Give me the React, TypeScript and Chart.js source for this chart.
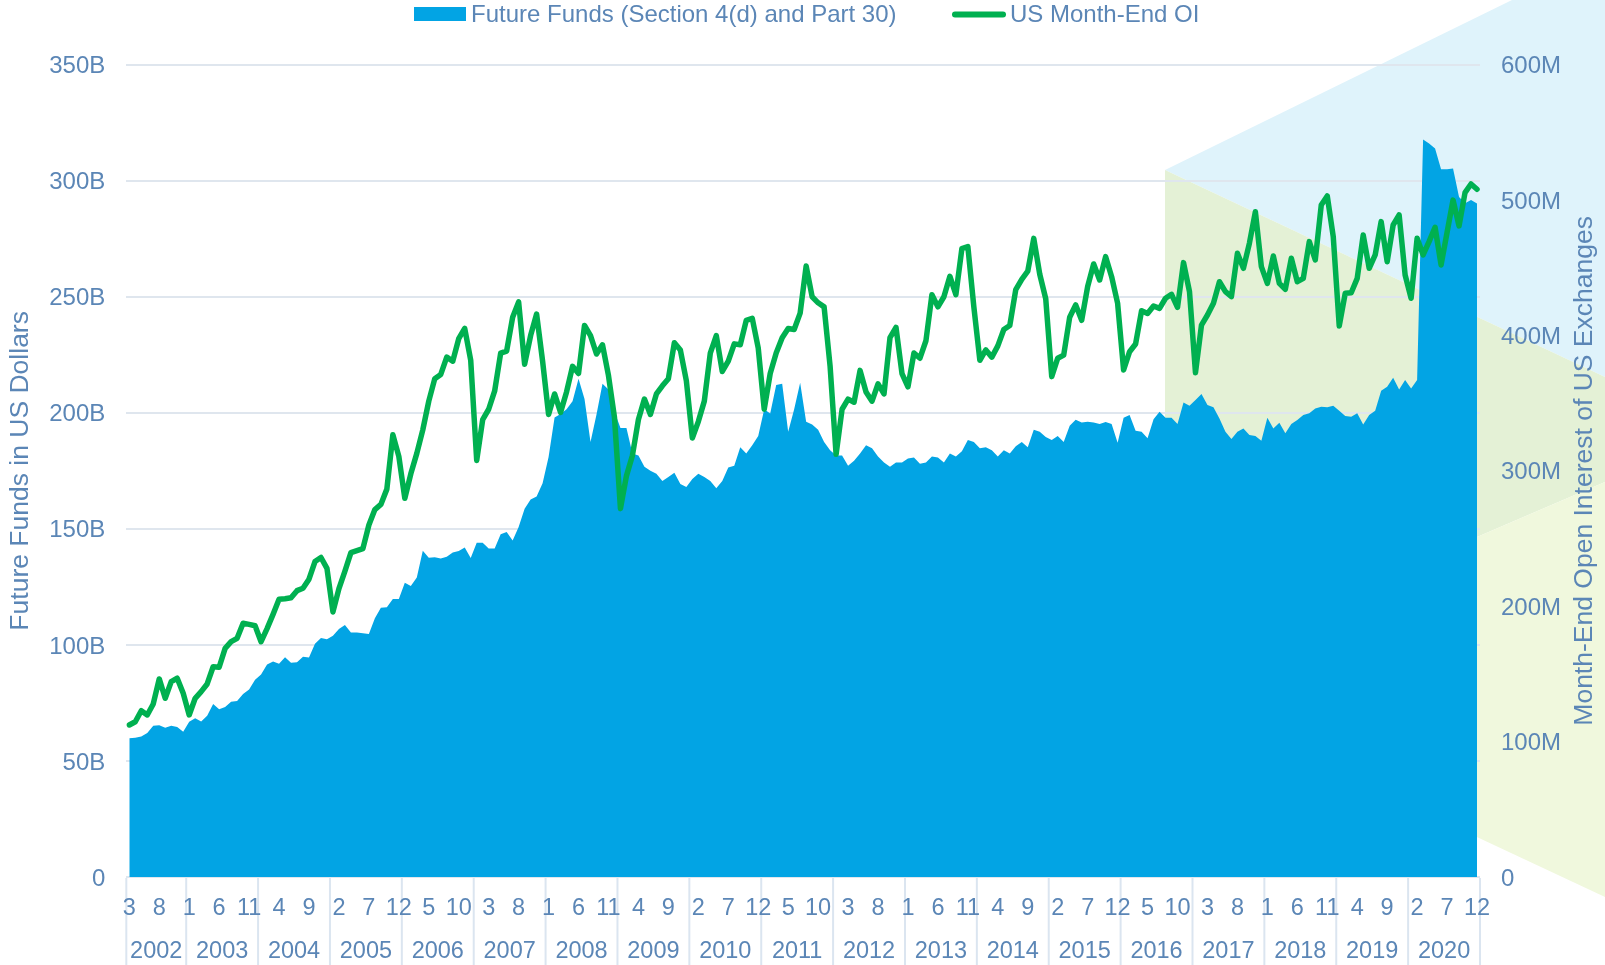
import React, { useEffect, useRef } from 'react';
import { Chart, registerables } from 'chart.js';

Chart.register(...registerables);

// ---- data ----
const years = [2002, 2003, 2004, 2005, 2006, 2007, 2008, 2009, 2010, 2011, 2012, 2013, 2014, 2015, 2016, 2017, 2018, 2019, 2020];
const firstMonth = 3; // series starts March 2002, ends December 2020
const monthTickStep = 5;

// Future Funds (Section 4(d) and Part 30), billions USD
const fundsB = [
  59.8, 60.0, 60.5, 62.0, 65.2, 65.4, 64.3, 65.2, 64.6, 62.6,
  66.9, 68.4, 67.0, 69.5, 74.5, 72.3, 73.2, 75.5, 75.8, 78.9, 80.8, 85.0,
  87.3, 91.6, 92.8, 91.9, 94.7, 92.3, 92.5, 94.9, 94.6, 100.5, 103.0, 102.4,
  104.0, 106.9, 108.6, 105.4, 105.3, 105.0, 104.7, 111.5, 116.0, 116.2, 119.8, 119.8,
  126.8, 125.4, 129.0, 140.6, 137.6, 137.8, 137.2, 138.0, 139.8, 140.5, 142.0, 137.5,
  144.0, 144.0, 141.5, 141.5, 147.7, 148.6, 145.0, 150.8, 158.7, 162.7, 164.0, 169.7,
  181.0, 198.0, 199.5, 201.5, 205.0, 214.7, 206.0, 187.4, 199.3, 212.5, 210.0, 200.6,
  193.5, 193.5, 182.5, 181.6, 176.8, 175.0, 173.7, 170.6, 172.4, 174.2, 169.3, 168.0,
  171.5, 173.7, 172.4, 170.6, 167.5, 170.6, 176.4, 177.2, 185.2, 182.5, 186.0, 190.0,
  201.5, 199.7, 212.0, 212.5, 191.8, 201.5, 213.0, 196.2, 195.0, 192.7, 187.4, 183.9,
  181.6, 181.6, 177.2, 179.4, 182.5, 186.0, 184.7, 181.2, 178.6, 176.8, 178.6, 178.6,
  180.3, 180.8, 178.1, 178.6, 181.2, 180.8, 178.6, 182.5, 181.2, 183.4, 188.3, 187.4,
  184.7, 185.2, 183.9, 181.2, 183.9, 182.5, 185.6, 187.4, 185.2, 192.7, 191.8, 189.6,
  188.3, 190.0, 187.4, 194.4, 197.0, 195.8, 196.2, 195.8, 195.2, 196.0, 195.2, 187.1,
  197.9, 199.1, 192.3, 191.9, 189.0, 197.2, 200.5, 197.9, 197.9, 195.2, 204.4, 203.1,
  205.5, 208.1, 203.4, 202.4, 197.6, 191.9, 188.7, 191.9, 193.3, 190.4, 190.0, 188.0,
  197.9, 193.3, 195.7, 191.2, 195.2, 196.9, 199.1, 199.8, 201.9, 202.6, 202.4, 203.1,
  200.9, 198.6, 198.3, 199.8, 195.0, 199.1, 200.9, 209.5, 211.2, 215.1, 210.1, 214.1,
  210.5, 214.1, 317.8, 316.0, 313.9, 305.0, 305.0, 305.3, 293.0, 290.3, 291.7, 290.2,
];

// US Month-End OI, millions of contracts
const oiM = [
  112.3, 114.7, 122.8, 119.7, 127.8, 146.3, 132.0, 144.3, 146.8, 135.7,
  119.7, 132.0, 136.9, 142.6, 155.3, 154.9, 168.9, 173.8, 176.3, 187.4, 186.6, 185.6,
  173.8, 183.5, 194.0, 205.1, 205.5, 206.2, 211.5, 213.3, 220.0, 233.0, 236.0, 228.0,
  195.8, 213.0, 226.0, 239.6, 241.1, 242.6, 260.0, 271.4, 275.2, 286.5, 326.6, 310.7,
  279.7, 297.8, 312.9, 330.3, 351.5, 368.1, 371.2, 384.0, 381.0, 397.6, 405.2, 381.7,
  307.7, 337.9, 345.5, 359.0, 387.0, 388.5, 413.5, 424.8, 378.7, 399.9, 415.8, 381.0,
  341.7, 356.8, 343.2, 358.3, 377.2, 371.9, 407.4, 399.9, 386.3, 393.1, 370.4, 339.4,
  272.1, 296.3, 311.4, 337.9, 353.0, 341.7, 356.8, 362.8, 368.1, 394.6, 389.3, 366.6,
  324.3, 336.4, 351.5, 387.0, 399.9, 373.4, 381.0, 393.8, 393.1, 411.2, 412.7, 390.8,
  345.5, 371.9, 387.0, 398.4, 405.2, 404.4, 416.5, 451.3, 428.6, 424.1, 421.1, 377.2,
  312.2, 345.5, 353.0, 350.7, 374.2, 358.3, 351.5, 364.3, 356.8, 398.4, 405.9, 371.9,
  362.1, 387.0, 383.2, 396.1, 430.1, 421.1, 428.6, 443.7, 430.1, 464.1, 465.6, 421.1,
  381.7, 389.3, 384.0, 392.3, 404.4, 407.4, 433.9, 441.5, 447.5, 471.7, 445.2, 427.1,
  369.6, 383.2, 385.5, 413.5, 422.6, 411.2, 436.2, 452.8, 441.0, 458.2, 443.4, 423.8,
  374.5, 388.0, 393.7, 418.3, 416.2, 421.8, 420.0, 427.5, 430.4, 420.8, 453.8, 432.4,
  372.5, 407.7, 415.1, 423.8, 439.7, 432.4, 428.7, 460.7, 449.6, 468.1, 491.4, 450.8,
  438.5, 458.7, 438.5, 434.1, 457.0, 439.7, 442.2, 469.3, 455.8, 496.4, 503.0, 473.0,
  407.0, 431.2, 431.6, 442.2, 474.2, 449.6, 459.5, 484.1, 454.5, 481.6, 489.0, 444.7,
  427.5, 471.8, 459.5, 469.3, 479.9, 452.1, 476.0, 500.0, 480.9, 505.5, 511.9, 508.0,
];

const leftTicks = [0, 50, 100, 150, 200, 250, 300, 350];
const rightTicks = [0, 100, 200, 300, 400, 500, 600];

const seriesNames = ['Future Funds (Section 4(d) and Part 30)', 'US Month-End OI'];
const axisTitles = ['Future Funds in US Dollars', 'Month-End Open Interest of US Exchanges'];

// ---- styles ----
const BLUE = '#02a4e4';
const GREEN = '#00b050';
const TEXT = '#5b86b6';
const GRID = '#dfe6ee';
const SEP = '#dbe5f0';
const FONT = '"Liberation Sans", Arial, Helvetica, sans-serif';

const monthOf = (i: number) => ((firstMonth - 1 + i) % 12) + 1;
const monthTickIdx: number[] = [];
for (let i = 0; i < fundsB.length; i += monthTickStep) monthTickIdx.push(i);

const backdrop = {
  id: 'backdrop',
  beforeDraw(chart: any) {
    const ctx = chart.ctx as CanvasRenderingContext2D;
    const xs = chart.scales.x;
    const area = chart.chartArea;
    const poly = (pts: number[][], color: string) => {
      ctx.beginPath();
      pts.forEach(([x, y], k) => (k ? ctx.lineTo(x, y) : ctx.moveTo(x, y)));
      ctx.closePath();
      ctx.fillStyle = color;
      ctx.fill();
    };
    ctx.save();
    poly([[1165, 170], [1512, 0], [1605, 0], [1605, 377]], '#dff3fb');
    poly([[1165, 170], [1605, 377], [1605, 482], [1165, 671]], '#e4f1d6');
    poly([[1165, 671], [1605, 482], [1605, 897], [1165, 691]], '#f0f8dd');

    // year separators (behind tick labels)
    ctx.strokeStyle = SEP;
    ctx.lineWidth = 2;
    let start = 0;
    years.forEach((_yr, k) => {
      const count = k === 0 ? 13 - firstMonth : Math.min(12, fundsB.length - start);
      const a = xs.getPixelForValue(start - 0.5);
      const b = xs.getPixelForValue(start + count - 0.5);
      ctx.beginPath();
      ctx.moveTo(a, area.bottom + 1);
      ctx.lineTo(a, chart.height);
      if (k === years.length - 1) {
        ctx.moveTo(b, area.bottom + 1);
        ctx.lineTo(b, chart.height);
      }
      ctx.stroke();
      start += count;
    });
    ctx.restore();
  },
};

const decorations = {
  id: 'decorations',
  afterDraw(chart: any) {
    const ctx = chart.ctx as CanvasRenderingContext2D;
    const xs = chart.scales.x;
    const area = chart.chartArea;
    ctx.save();
    // year labels
    ctx.fillStyle = TEXT;
    ctx.font = `23.5px ${FONT}`;
    ctx.textAlign = 'center';
    ctx.textBaseline = 'alphabetic';
    let start = 0;
    years.forEach((yr, k) => {
      const count = k === 0 ? 13 - firstMonth : Math.min(12, fundsB.length - start);
      const a = xs.getPixelForValue(start - 0.5);
      const b = xs.getPixelForValue(start + count - 0.5);
      ctx.fillText(String(yr), (a + b) / 2, 957.5);
      start += count;
    });

    // legend
    ctx.font = `24px ${FONT}`;
    ctx.textAlign = 'left';
    ctx.fillStyle = BLUE;
    ctx.fillRect(414, 7, 52, 14);
    ctx.fillStyle = TEXT;
    ctx.fillText(chart.data.datasets[0].label, 471, 22);
    ctx.strokeStyle = GREEN;
    ctx.lineWidth = 6;
    ctx.lineCap = 'round';
    ctx.beginPath();
    ctx.moveTo(955, 14.5);
    ctx.lineTo(1003, 14.5);
    ctx.stroke();
    ctx.fillText(chart.data.datasets[1].label, 1010, 22);

    // right axis title (reads bottom-to-top)
    ctx.font = `26.5px ${FONT}`;
    ctx.translate(chart.width - 20.5, (area.top + area.bottom) / 2);
    ctx.rotate(-Math.PI / 2);
    ctx.textAlign = 'center';
    ctx.textBaseline = 'middle';
    ctx.fillText(axisTitles[1], 0, 0);
    ctx.restore();
  },
};

export default function App() {
  const ref = useRef<HTMLCanvasElement | null>(null);

  useEffect(() => {
    document.body.style.margin = '0';
    const canvas = ref.current;
    if (!canvas) return;
    const tickFont = { family: FONT, size: 24 };
    const chart = new Chart(canvas, {
      type: 'line',
      data: {
        datasets: [
          {
            label: seriesNames[0],
            data: fundsB.map((v, i) => ({ x: i, y: v })),
            yAxisID: 'yL',
            fill: 'origin',
            backgroundColor: BLUE,
            borderColor: 'rgba(0,0,0,0)',
            borderWidth: 0,
            pointRadius: 0,
            tension: 0,
            order: 2,
          },
          {
            label: seriesNames[1],
            data: oiM.map((v, i) => ({ x: i, y: v })),
            yAxisID: 'yR',
            fill: false,
            borderColor: GREEN,
            backgroundColor: GREEN,
            borderWidth: 5.5,
            borderJoinStyle: 'round',
            borderCapStyle: 'round',
            pointRadius: 0,
            tension: 0,
            order: 1,
          },
        ],
      } as any,
      options: {
        animation: false,
        responsive: true,
        maintainAspectRatio: false,
        layout: { padding: { top: 64.7, left: 0, right: 0, bottom: 0 } },
        plugins: { legend: { display: false }, tooltip: { enabled: false } },
        scales: {
          x: {
            type: 'linear',
            min: -0.5,
            max: fundsB.length - 0.5,
            grid: { display: false, drawTicks: false },
            border: { display: false },
            afterBuildTicks: (s: any) => {
              s.ticks = monthTickIdx.map((v) => ({ value: v }));
            },
            afterFit: (s: any) => {
              s.height = 88;
            },
            ticks: {
              autoSkip: false,
              maxRotation: 0,
              minRotation: 0,
              padding: 17.5,
              color: TEXT,
              font: { family: FONT, size: 23.5 },
              callback: (v: any) => String(monthOf(Number(v))),
            },
          },
          yL: {
            position: 'left',
            min: leftTicks[0],
            max: leftTicks[leftTicks.length - 1],
            afterBuildTicks: (s: any) => {
              s.ticks = leftTicks.map((v) => ({ value: v }));
            },
            afterFit: (s: any) => {
              s.width = 126.3;
            },
            grid: { color: GRID, lineWidth: 2, drawTicks: false },
            border: { display: false },
            ticks: {
              padding: 21,
              labelOffset: 2,
              color: TEXT,
              font: tickFont,
              callback: (v: any) => (Number(v) === 0 ? '0' : `${v}B`),
            },
            title: {
              display: true,
              text: axisTitles[0],
              color: TEXT,
              font: { family: FONT, size: 26.5 },
              padding: { top: 4.6, bottom: 0 },
            },
          },
          yR: {
            position: 'right',
            min: rightTicks[0],
            max: rightTicks[rightTicks.length - 1],
            afterBuildTicks: (s: any) => {
              s.ticks = rightTicks.map((v) => ({ value: v }));
            },
            afterFit: (s: any) => {
              s.width = 125;
            },
            grid: { display: false, drawTicks: false },
            border: { display: false },
            ticks: {
              padding: 21,
              labelOffset: 2,
              color: TEXT,
              font: tickFont,
              callback: (v: any) => (Number(v) === 0 ? '0' : `${v}M`),
            },
          },
        },
      } as any,
      plugins: [backdrop, decorations],
    });
    return () => chart.destroy();
  }, []);

  return (
    <div style={{ position: 'fixed', left: 0, top: 0, width: 1605, height: 965, background: '#fff' }}>
      <canvas ref={ref} />
    </div>
  );
}
